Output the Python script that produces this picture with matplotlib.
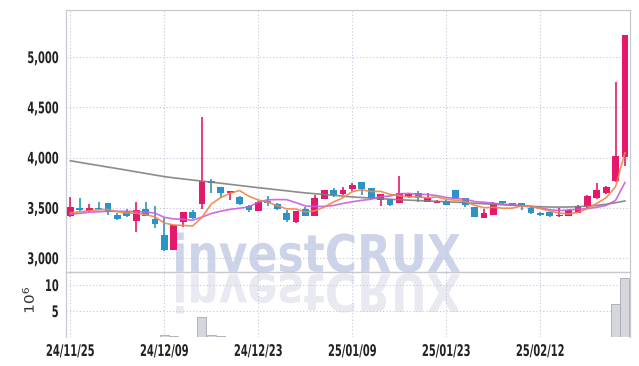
import matplotlib
matplotlib.use('Agg')
import matplotlib.pyplot as plt
from matplotlib.patheffects import AbstractPathEffect
from matplotlib.transforms import Affine2D

# ---- données ----
tick_pos = [0, 10, 20, 30, 40, 50]
tick_labels = ['24/11/25', '24/12/09', '24/12/23', '25/01/09', '25/01/23', '25/02/12']

opens = [3415, 3495, 3470, 3495, 3547, 3428, 3455, 3371, 3490, 3390,
         3230, 3080, 3362, 3460, 3535, 3765, 3705, 3645, 3605, 3520,
         3470, 3570, 3537, 3450, 3355, 3485, 3418, 3587, 3677, 3634,
         3686, 3753, 3693, 3577, 3585, 3550, 3610, 3644, 3560, 3550,
         3570, 3677, 3594, 3505, 3398, 3431, 3567, 3545, 3545, 3500,
         3450, 3458, 3415, 3421, 3451, 3505, 3594, 3644, 3766, 4010]
highs = [3610, 3594, 3537, 3555, 3550, 3448, 3485, 3555, 3555, 3515,
         3400, 3330, 3460, 3480, 4400, 3790, 3710, 3665, 3615, 3525,
         3565, 3620, 3545, 3480, 3470, 3505, 3625, 3680, 3695, 3710,
         3745, 3755, 3700, 3640, 3590, 3815, 3645, 3670, 3644, 3580,
         3575, 3680, 3600, 3510, 3485, 3555, 3570, 3550, 3550, 3505,
         3455, 3460, 3495, 3485, 3525, 3625, 3743, 3715, 4755, 5220]
lows = [3410, 3468, 3455, 3480, 3431, 3378, 3405, 3255, 3415, 3300,
        3070, 3075, 3310, 3390, 3490, 3650, 3595, 3577, 3530, 3455,
        3465, 3515, 3480, 3358, 3350, 3415, 3415, 3585, 3610, 3630,
        3670, 3627, 3585, 3520, 3520, 3545, 3600, 3560, 3555, 3545,
        3525, 3585, 3505, 3405, 3395, 3428, 3540, 3520, 3478, 3440,
        3420, 3410, 3412, 3418, 3448, 3500, 3590, 3640, 3760, 3920]
closes = [3504, 3480, 3495, 3485, 3455, 3390, 3420, 3478, 3420, 3342,
          3080, 3325, 3455, 3395, 3765, 3750, 3645, 3663, 3535, 3480,
          3560, 3545, 3485, 3378, 3465, 3420, 3597, 3677, 3627, 3677,
          3726, 3687, 3595, 3634, 3527, 3650, 3634, 3594, 3594, 3570,
          3530, 3587, 3527, 3411, 3448, 3550, 3545, 3525, 3520, 3445,
          3425, 3418, 3428, 3478, 3520, 3617, 3677, 3710, 4015, 5220]
volumes = [0.06, 0.05, 0.04, 0.04, 0.05, 0.05, 0.04, 0.06, 0.05, 0.06,
           0.30, 0.20, 0.06, 0.05, 3.8, 0.30, 0.25, 0.06, 0.05, 0.05,
           0.05, 0.05, 0.04, 0.06, 0.05, 0.04, 0.06, 0.05, 0.04, 0.04,
           0.05, 0.05, 0.05, 0.04, 0.04, 0.08, 0.04, 0.04, 0.04, 0.04,
           0.04, 0.05, 0.04, 0.05, 0.04, 0.05, 0.04, 0.04, 0.04, 0.04,
           0.04, 0.04, 0.04, 0.04, 0.05, 0.06, 0.08, 0.06, 6.35, 11.3]
ma5 = [3450, 3460, 3470, 3480, 3484, 3461, 3449, 3446, 3433, 3410,
       3348, 3329, 3324, 3319, 3404, 3538, 3602, 3644, 3672, 3615,
       3577, 3557, 3521, 3490, 3487, 3459, 3469, 3507, 3557, 3600,
       3661, 3679, 3662, 3664, 3634, 3619, 3608, 3608, 3600, 3608,
       3584, 3575, 3562, 3525, 3501, 3505, 3496, 3496, 3518, 3517,
       3492, 3467, 3447, 3439, 3454, 3492, 3544, 3600, 3708, 4048]
ma10 = [3435, 3445, 3455, 3460, 3465, 3465, 3465, 3462, 3458, 3447,
        3405, 3389, 3385, 3376, 3407, 3443, 3466, 3484, 3496, 3509,
        3557, 3579, 3582, 3581, 3551, 3518, 3513, 3514, 3523, 3543,
        3560, 3574, 3585, 3611, 3617, 3640, 3643, 3635, 3632, 3621,
        3602, 3592, 3585, 3562, 3555, 3545, 3536, 3529, 3521, 3509,
        3498, 3481, 3472, 3478, 3485, 3492, 3505, 3524, 3573, 3751]
ma_long = [3968, 3952, 3936, 3921, 3905, 3890, 3874, 3858, 3842, 3826,
           3810, 3798, 3787, 3776, 3765, 3755, 3744, 3733, 3722, 3711,
           3700, 3690, 3679, 3669, 3658, 3648, 3640, 3632, 3624, 3616,
           3608, 3602, 3596, 3591, 3585, 3580, 3576, 3572, 3568, 3564,
           3560, 3555, 3550, 3545, 3540, 3535, 3530, 3525, 3520, 3515,
           3510, 3508, 3507, 3508, 3511, 3516, 3524, 3535, 3550, 3568]

UP = '#e5196b'
DOWN = '#2a94c8'
GRID = '#c4c8dc'
SPINE = '#c9c9d2'
W, H = 639, 366


class Etirer(AbstractPathEffect):
    """Texte condensé horizontalement autour d'un point d'ancrage."""
    def __init__(self, sx, ancre='center'):
        super().__init__()
        self.sx = sx
        self.ancre = ancre

    def draw_path(self, renderer, gc, tpath, affine, rgbFace=None):
        bb = tpath.get_extents(affine)
        ax_ = {'left': bb.x0, 'center': (bb.x0 + bb.x1) / 2, 'right': bb.x1}[self.ancre]
        t = affine + Affine2D().translate(-ax_, 0).scale(self.sx, 1).translate(ax_, 0)
        renderer.draw_path(gc, tpath, t, rgbFace)


class Boite(AbstractPathEffect):
    """Place le texte dans une boîte en pixels (y0 = bas du texte, y1 = haut)."""
    def __init__(self, x0, x1, y0, y1):
        super().__init__()
        self.x0, self.x1, self.y0, self.y1 = x0, x1, y0, y1

    def draw_path(self, renderer, gc, tpath, affine, rgbFace=None):
        bb = tpath.get_extents(affine)
        sx = (self.x1 - self.x0) / bb.width
        sy = (self.y1 - self.y0) / bb.height
        t = affine + Affine2D().translate(-bb.x0, -bb.y0).scale(sx, sy).translate(self.x0, self.y0)
        renderer.draw_path(gc, tpath, t, rgbFace)


fig = plt.figure(figsize=(W / 100, H / 100), dpi=100)
ax = fig.add_axes([66 / W, 1 - 272 / H, 564 / W, 262 / H])
axv = fig.add_axes([66 / W, 1 - 337 / H, 564 / W, 65 / H], sharex=ax)
for a in (ax, axv):
    a.set_facecolor('none')

x = list(range(len(closes)))

# bougies
couleurs = [UP if c >= o else DOWN for o, c in zip(opens, closes)]
ax.vlines(x, lows, highs, colors=couleurs, linewidth=1.2, zorder=3)
ax.bar(x, [max(abs(c - o), 8) for o, c in zip(opens, closes)],
       bottom=[min(o, c) for o, c in zip(opens, closes)],
       width=0.72, color=couleurs, linewidth=0, zorder=4)

# moyennes mobiles
ax.plot(x, ma_long, color='#7f7f7f', linewidth=1.2, zorder=5, alpha=0.9)
ax.plot(x, ma10, color='#c65de0', linewidth=1.2, zorder=5, alpha=0.9)
ax.plot(x, ma5, color='#ef8748', linewidth=1.2, zorder=6, alpha=0.9)

ax.set_xlim(-0.46, 59.54)
ax.set_ylim(2861, 5468)
ax.set_yticks([3000, 3500, 4000, 4500, 5000])
ax.set_yticklabels(['3,000', '3,500', '4,000', '4,500', '5,000'])

# volume
axv.bar(x, volumes, width=0.95, color='#d6d6dd', edgecolor='#a9a9b4', linewidth=0.6, zorder=3)
axv.set_ylim(0, 12.5)
axv.set_yticks([5, 10])
axv.set_yticklabels(['5', '10'])
axv.set_ylabel(r'$10^6$', fontsize=11, color='#333333')
axv.yaxis.set_label_coords(-0.05, 0.57)
axv.yaxis.label.set_path_effects([Etirer(0.85)])
axv.set_xticks(tick_pos)
axv.set_xticklabels(tick_labels)

for a in (ax, axv):
    a.grid(True, linestyle=(0, (1, 2)), color=GRID, linewidth=0.8)
    a.set_axisbelow(True)
    a.tick_params(length=0, pad=5, colors='#222222')
    for lab in a.get_yticklabels():
        lab.set_fontsize(11.5)
        lab.set_fontweight('bold')
        lab.set_path_effects([Etirer(0.62, 'right')])
    for lab in a.get_xticklabels():
        lab.set_fontsize(11.5)
        lab.set_fontweight('bold')
        lab.set_path_effects([Etirer(0.62, 'center')])
    for s in a.spines.values():
        s.set_color(SPINE)
        s.set_linewidth(0.9)
axv.spines['bottom'].set_visible(False)
ax.tick_params(labelbottom=False)

# filigrane "investCRUX" avec reflet
base = H - 272.5
t1 = fig.text(176 / W, base / H, 'investCRUX', fontsize=36, fontweight='bold',
              color='#cdd3e8', zorder=-1)
t1.set_path_effects([Boite(176, 460, base, base + 40)])
t2 = fig.text(176 / W, base / H, 'investCRUX', fontsize=36, fontweight='bold',
              color='#e8e9f1', zorder=-1)
t2.set_path_effects([Boite(176, 460, base - 1, base - 41)])

fig.savefig('out.png', dpi=100)
